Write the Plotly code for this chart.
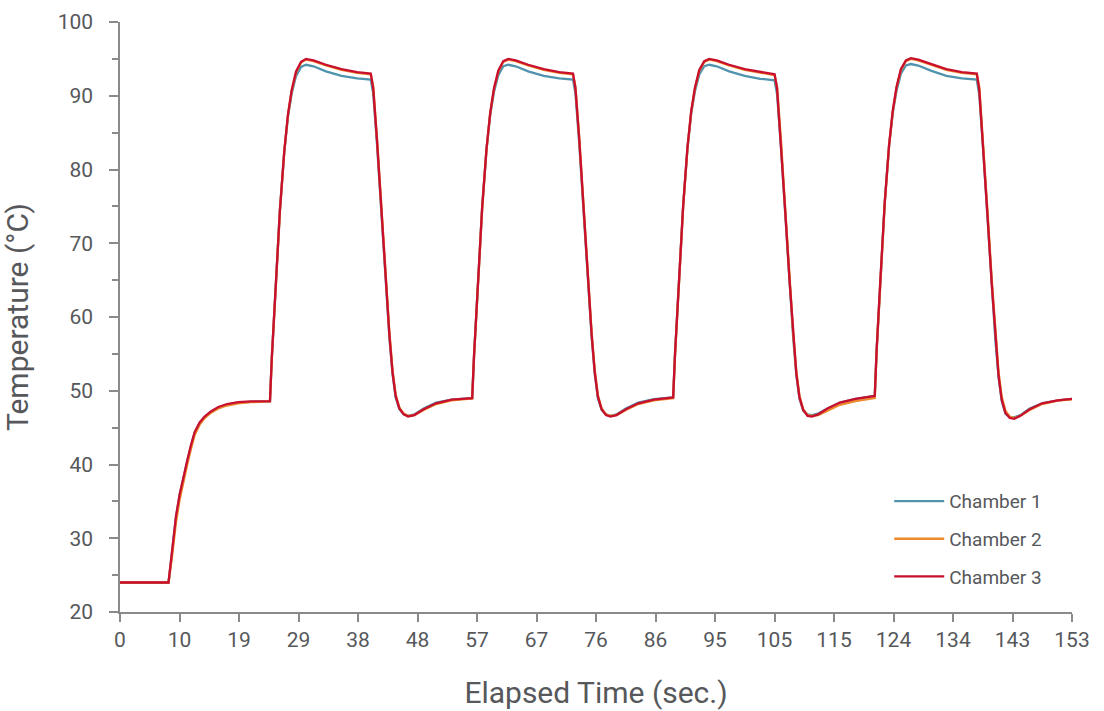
import plotly.graph_objects as go

# ---------------- data ----------------
time_s = [
    # initial ramp
    0, 7.8, 8.4, 9.0, 9.6, 10.2, 10.8, 11.4, 12.0, 12.8, 13.6, 14.6, 15.8, 17.2, 19.0, 21.0, 24.1,
    # cycle 1
    24.4, 25.0, 25.7, 26.4, 27.0, 27.6, 28.3, 29.1, 29.9, 31.1, 33.1, 35.6, 38.1, 40.3,
    40.7, 41.3, 42.0, 42.7, 43.3, 43.8, 44.3, 44.9, 45.6, 46.3, 47.3, 48.8, 50.8, 53.3, 56.6,
    # cycle 2
    56.9, 57.5, 58.2, 58.9, 59.5, 60.1, 60.8, 61.6, 62.4, 63.6, 65.6, 68.1, 70.6, 72.8,
    73.2, 73.8, 74.5, 75.2, 75.8, 76.3, 76.8, 77.4, 78.1, 78.8, 79.8, 81.3, 83.3, 85.8, 88.9,
    # cycle 3
    89.2, 89.8, 90.5, 91.2, 91.8, 92.4, 93.1, 93.9, 94.7, 95.9, 97.9, 100.4, 102.9, 105.2,
    105.6, 106.2, 106.9, 107.6, 108.2, 108.7, 109.2, 109.8, 110.5, 111.2, 112.2, 113.7, 115.7, 118.2, 121.3,
    # cycle 4
    121.6, 122.2, 122.9, 123.6, 124.2, 124.8, 125.5, 126.3, 127.1, 128.3, 130.3, 132.8, 135.3, 137.7,
    138.1, 138.7, 139.4, 140.1, 140.7, 141.2, 141.7, 142.3, 143.0, 143.7, 144.7, 146.2, 148.2, 150.7, 153.0,
]

chamber_1 = [
    24.0, 24.0, 28.4, 32.9, 35.9, 38.3, 40.4, 42.5, 44.3, 45.6, 46.4, 47.1, 47.7, 48.1, 48.4, 48.5, 48.55,
    54.5, 64.0, 74.5, 82.4, 87.2, 90.3, 92.7, 93.9, 94.2, 94.0, 93.3, 92.7, 92.35, 92.2,
    90.3, 83.5, 74.0, 64.7, 57.2, 52.3, 49.1, 47.5, 46.8, 46.6, 46.8, 47.6, 48.4, 48.8, 49.0,
    54.8, 64.3, 74.8, 82.7, 87.4, 90.5, 92.8, 94.0, 94.2, 94.0, 93.3, 92.7, 92.35, 92.2,
    90.3, 83.6, 74.3, 64.9, 57.3, 52.3, 49.0, 47.4, 46.8, 46.6, 46.8, 47.6, 48.4, 48.85, 49.1,
    55.0, 64.5, 75.0, 82.9, 87.6, 90.6, 92.9, 94.0, 94.2, 94.0, 93.3, 92.7, 92.3, 92.1,
    90.2, 83.4, 74.0, 64.6, 57.1, 52.1, 48.9, 47.3, 46.8, 46.7, 46.9, 47.6, 48.4, 48.9, 49.3,
    55.5, 65.0, 75.5, 83.2, 87.7, 90.7, 93.0, 94.1, 94.3, 94.1, 93.4, 92.7, 92.35, 92.2,
    90.1, 83.0, 73.6, 64.2, 56.7, 51.8, 48.6, 46.9, 46.4, 46.4, 46.7, 47.6, 48.3, 48.7, 48.9,
]

chamber_2 = [
    24.0, 24.0, 27.8, 32.2, 35.3, 37.8, 40.0, 42.1, 44.0, 45.4, 46.3, 47.0, 47.6, 48.0, 48.3, 48.45, 48.55,
    54.3, 63.8, 74.3, 82.4, 87.4, 90.7, 93.2, 94.5, 94.9, 94.7, 94.1, 93.5, 93.1, 92.9,
    91.2, 84.3, 74.9, 65.4, 57.9, 52.8, 49.5, 47.7, 46.9, 46.6, 46.7, 47.4, 48.2, 48.7, 48.95,
    54.6, 64.1, 74.6, 82.7, 87.6, 90.9, 93.3, 94.6, 94.9, 94.7, 94.1, 93.5, 93.1, 92.9,
    91.2, 84.4, 75.1, 65.5, 57.9, 52.8, 49.4, 47.6, 46.8, 46.6, 46.7, 47.4, 48.2, 48.7, 49.0,
    54.8, 64.3, 74.8, 82.9, 87.8, 91.0, 93.4, 94.6, 94.9, 94.7, 94.1, 93.5, 93.1, 92.8,
    91.2, 84.3, 74.8, 65.3, 57.7, 52.6, 49.3, 47.5, 46.7, 46.6, 46.7, 47.3, 48.1, 48.6, 49.0,
    55.3, 64.8, 75.3, 83.2, 87.9, 91.1, 93.5, 94.7, 95.0, 94.8, 94.2, 93.5, 93.1, 92.9,
    91.2, 84.0, 74.6, 65.1, 57.6, 52.5, 49.2, 47.3, 46.5, 46.3, 46.6, 47.4, 48.2, 48.65, 48.85,
]

chamber_3 = [
    24.0, 24.0, 28.5, 33.0, 36.0, 38.4, 40.5, 42.6, 44.4, 45.7, 46.5, 47.2, 47.8, 48.2, 48.45, 48.55, 48.6,
    54.5, 64.0, 74.5, 82.5, 87.5, 90.8, 93.3, 94.6, 95.0, 94.8, 94.2, 93.6, 93.2, 93.0,
    91.0, 84.0, 74.5, 65.0, 57.5, 52.5, 49.3, 47.6, 46.8, 46.5, 46.7, 47.5, 48.3, 48.8, 49.0,
    54.8, 64.3, 74.8, 82.8, 87.7, 91.0, 93.4, 94.7, 95.0, 94.8, 94.2, 93.6, 93.2, 93.0,
    91.0, 84.2, 74.8, 65.2, 57.6, 52.5, 49.2, 47.5, 46.7, 46.5, 46.7, 47.5, 48.3, 48.8, 49.1,
    55.0, 64.5, 75.0, 83.0, 87.9, 91.1, 93.5, 94.7, 95.0, 94.8, 94.2, 93.6, 93.2, 92.9,
    91.0, 84.0, 74.5, 65.0, 57.4, 52.3, 49.1, 47.4, 46.6, 46.5, 46.8, 47.6, 48.4, 48.9, 49.3,
    55.5, 65.0, 75.5, 83.3, 88.0, 91.2, 93.6, 94.8, 95.1, 94.9, 94.3, 93.6, 93.2, 93.0,
    90.8, 83.5, 74.0, 64.5, 57.0, 52.0, 48.8, 47.0, 46.3, 46.2, 46.6, 47.5, 48.3, 48.7, 48.9,
]

series_names = ["Chamber 1", "Chamber 2", "Chamber 3"]
series_colors = ["#4f93ad", "#ec8a2c", "#c8102e"]

x_tick_labels = ["0", "10", "19", "29", "38", "48", "57", "67", "76", "86",
                 "95", "105", "115", "124", "134", "143", "153"]
y_tick_values = [20, 30, 40, 50, 60, 70, 80, 90, 100]

# ---------------- figure ----------------
FONT = "Roboto, 'DejaVu Sans', sans-serif"
TEXT = "#56585b"
AXIS = "#8a8a8a"

x_max = 153
x_tick_pos = [i * x_max / (len(x_tick_labels) - 1) for i in range(len(x_tick_labels))]

fig = go.Figure()
for name, color, vals in zip(series_names, series_colors,
                             [chamber_1, chamber_2, chamber_3]):
    fig.add_trace(go.Scatter(
        x=time_s, y=vals, mode="lines", name=name, legendgroup=name,
        line=dict(color=color, width=2.3),
    ))

fig.update_layout(
    width=1104, height=711,
    paper_bgcolor="white", plot_bgcolor="white",
    margin=dict(l=120, r=32, t=22, b=99, autoexpand=False),
    font=dict(family=FONT, color=TEXT),
    showlegend=True,
    legend=dict(
        x=0.808, y=0.22, xanchor="left", yanchor="top",
        font=dict(size=19, color=TEXT, family=FONT),
        bgcolor="rgba(0,0,0,0)", traceorder="grouped", tracegroupgap=10,
        itemwidth=50,
    ),
)

fig.update_xaxes(
    range=[0, x_max], tickmode="array", tickvals=x_tick_pos, ticktext=x_tick_labels,
    automargin=False,
    showgrid=False, zeroline=False, showline=True, linecolor=AXIS, linewidth=1.5,
    ticks="outside", ticklen=8, tickwidth=1.5, tickcolor=AXIS,
    tickfont=dict(size=21, color=TEXT, family=FONT),
    title=dict(text="Elapsed Time (sec.)", font=dict(size=30, color=TEXT, family=FONT), standoff=31),
)
fig.update_yaxes(
    range=[20, 100], tickmode="array", tickvals=y_tick_values,
    automargin=False,
    showgrid=False, zeroline=False, showline=True, linecolor=AXIS, linewidth=1.5,
    ticks="outside", ticklen=9, tickwidth=1.5, tickcolor=AXIS,
    ticklabelstandoff=12,
    minor=dict(dtick=5, tick0=0, ticks="outside", ticklen=6, tickwidth=1.5, tickcolor=AXIS),
    tickfont=dict(size=21, color=TEXT, family=FONT),
    title=dict(text="Temperature (°C)", font=dict(size=30, color=TEXT, family=FONT), standoff=24),
)

fig.write_html("out.html", config={"displayModeBar": False},
               post_script="document.body.style.margin='0';")
